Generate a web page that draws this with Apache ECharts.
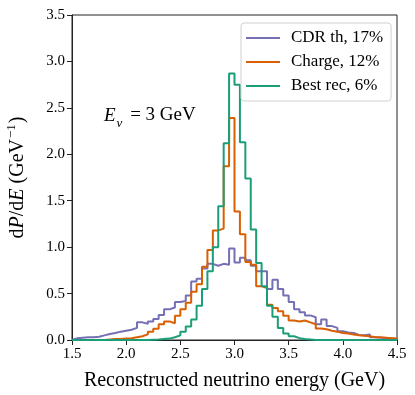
<!DOCTYPE html>
<html>
<head>
<meta charset="utf-8">
<script src="https://cdn.jsdelivr.net/npm/echarts@6/dist/echarts.min.js"></script>
<style>
  html, body { margin: 0; padding: 0; background: #fff; }
  #chart { width: 415px; height: 395px; }
</style>
</head>
<body>
<div id="chart"></div>
<script>
// histogram bins: 1.5 .. 4.5 GeV, width 0.05
var binStart = 1.5;
var binWidth = 0.05;

// dP/dE per bin
var cdrTh = [0.02, 0.025, 0.03, 0.03, 0.035, 0.05, 0.065, 0.075, 0.09, 0.10,
             0.11, 0.13, 0.19, 0.175, 0.20, 0.225, 0.27, 0.33, 0.35, 0.41,
             0.42, 0.48, 0.63, 0.66, 0.77, 0.82, 0.80, 0.82, 0.81, 0.985,
             0.835, 0.885, 0.86, 0.80, 0.74, 0.74, 0.55, 0.65, 0.55, 0.48,
             0.41, 0.33, 0.30, 0.265, 0.245, 0.17, 0.22, 0.15, 0.13, 0.095,
             0.08, 0.075, 0.055, 0.05, 0.06, 0.03, 0.025, 0.02, 0.015, 0.01];
var charge = [0, 0, 0, 0, 0, 0, 0.005, 0.01, 0.01, 0.015,
              0.02, 0.03, 0.04, 0.06, 0.09, 0.12, 0.17, 0.20, 0.18, 0.26,
              0.33, 0.40, 0.52, 0.60, 0.79, 0.97, 1.18, 1.20, 1.87, 2.39,
              1.385, 1.14, 0.84, 0.81, 0.58, 0.56, 0.38, 0.345, 0.31, 0.26,
              0.21, 0.20, 0.21, 0.19, 0.17, 0.125, 0.115, 0.10, 0.09, 0.075,
              0.07, 0.06, 0.05, 0.045, 0.04, 0.03, 0.03, 0.025, 0.02, 0.015];
var bestRec = [0, 0, 0, 0, 0, 0, 0, 0, 0, 0,
               0, 0, 0, 0, 0.003, 0.005, 0.01, 0.015, 0.03, 0.05,
               0.09, 0.145, 0.22, 0.37, 0.55, 0.74, 1.0, 1.44, 2.12, 2.87,
               2.75, 2.13, 1.74, 1.19, 0.83, 0.58, 0.37, 0.25, 0.13, 0.07,
               0.04, 0.02, 0.01, 0.005, 0, 0, 0, 0, 0, 0,
               0, 0, 0, 0, 0, 0, 0, 0, 0, 0];

var seriesNames = ['CDR th, 17%', 'Charge, 12%', 'Best rec, 6%'];
var seriesColors = ['#7570b3', '#d95f02', '#1b9e77'];

var xTicks = [1.5, 4.5, 0.5];   // min, max, step
var yTicks = [0, 3.5, 0.5];

var font = '"Liberation Serif", "DejaVu Serif", serif';

// turn bin heights into step outline points
function stepData(vals) {
	var pts = [[binStart, 0]];
	for (var i = 0; i < vals.length; i++) {
		pts.push([+(binStart + i * binWidth).toFixed(3), vals[i]]);
	}
	var end = +(binStart + vals.length * binWidth).toFixed(3);
	pts.push([end, vals[vals.length - 1]]);
	pts.push([end, 0]);
	return pts;
}

var allVals = [cdrTh, charge, bestRec];
var series = [];
for (var s = 0; s < allVals.length; s++) {
	series.push({
		name: seriesNames[s],
		type: 'line',
		step: 'end',
		symbol: 'none',
		animation: false,
		lineStyle: { color: seriesColors[s], width: 2 },
		itemStyle: { color: seriesColors[s] },
		data: stepData(allVals[s])
	});
}

var chart = echarts.init(document.getElementById('chart'));
chart.setOption({
	animation: false,
	grid: {
		left: 72, right: 18, top: 15, bottom: 55,
		containLabel: false, outerBoundsMode: 'none',
		show: true, borderColor: '#222', borderWidth: 1
	},
	legend: {
		orient: 'vertical',
		left: 241, top: 23,
		padding: [6, 8, 6, 5],
		itemGap: 6,
		itemWidth: 34, itemHeight: 2,
		icon: 'rect',
		backgroundColor: 'rgba(255,255,255,0.85)',
		borderColor: '#d0d0d0', borderWidth: 1, borderRadius: 3,
		textStyle: { fontFamily: font, fontSize: 17, color: '#000', padding: [0, 0, 0, 6], lineHeight: 18 },
		data: seriesNames
	},
	xAxis: {
		type: 'value',
		min: xTicks[0], max: xTicks[1], interval: xTicks[2],
		name: 'Reconstructed neutrino energy (GeV)',
		nameLocation: 'middle', nameGap: 31,
		nameTextStyle: { fontFamily: font, fontSize: 20, color: '#000' },
		axisLine: { show: true, onZero: false, lineStyle: { color: '#222', width: 1 } },
		axisTick: { show: true, inside: false, length: 5, lineStyle: { color: '#222' } },
		axisLabel: {
			fontFamily: font, fontSize: 15, color: '#000', margin: 7,
			formatter: function(v) { return v.toFixed(1); }
		},
		splitLine: { show: false }
	},
	yAxis: {
		type: 'value',
		min: yTicks[0], max: yTicks[1], interval: yTicks[2],
		name: '{r|d}{i|P}{r|/d}{i|E}{r| (GeV}{sup|−1}{r|)}',
		nameLocation: 'middle', nameGap: 44, nameRotate: 90,
		nameTextStyle: {
			fontFamily: font, fontSize: 20, color: '#000',
			rich: {
				r: { fontFamily: font, fontSize: 20, color: '#000', lineHeight: 23, verticalAlign: 'bottom' },
				i: { fontFamily: font, fontSize: 20, color: '#000', fontStyle: 'italic', lineHeight: 23, verticalAlign: 'bottom' },
				sup: { fontFamily: font, fontSize: 13, color: '#000', lineHeight: 14, verticalAlign: 'bottom', padding: [0, 1, 10, 1] }
			}
		},
		axisLine: { show: true, lineStyle: { color: '#222', width: 1 } },
		axisTick: { show: true, inside: false, length: 5, lineStyle: { color: '#222' } },
		axisLabel: {
			fontFamily: font, fontSize: 15, color: '#000', margin: 7,
			formatter: function(v) { return v.toFixed(1); }
		},
		splitLine: { show: false }
	},
	graphic: [{
		type: 'text',
		left: 104, top: 106,
		style: {
			text: '{i|E}{sub|ν}{r| = 3 GeV}',
			rich: {
				i: { fontFamily: font, fontSize: 19, fontStyle: 'italic', fill: '#000', lineHeight: 22, verticalAlign: 'top' },
				sub: { fontFamily: font, fontSize: 13, fontStyle: 'italic', fill: '#000', lineHeight: 14, verticalAlign: 'top', padding: [11, 3, 0, 1] },
				r: { fontFamily: font, fontSize: 19, fill: '#000', lineHeight: 22, verticalAlign: 'top' }
			}
		}
	}],
	series: series
});
</script>
</body>
</html>
